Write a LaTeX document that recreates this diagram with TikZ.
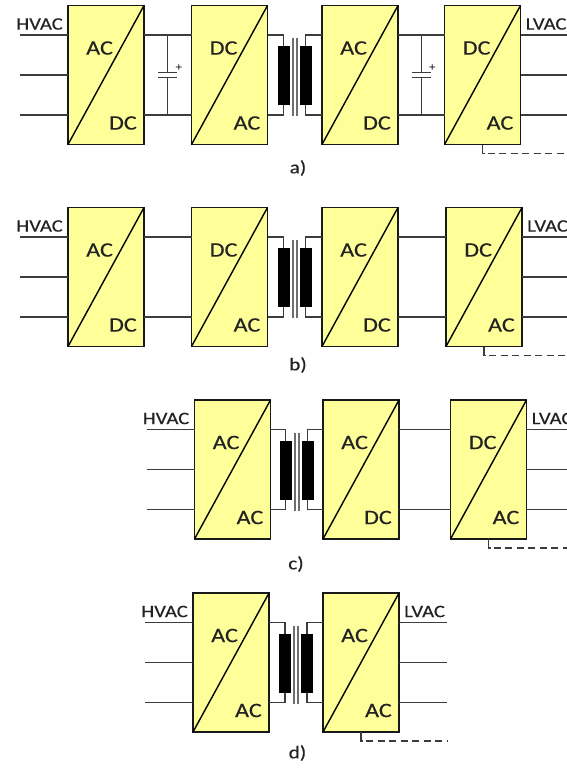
\documentclass[tikz,border=0pt]{standalone}
\usepackage{fontspec}
\newfontfamily\lblfont[FakeStretch=1.18,FakeBold=0.35]{Carlito}
\usetikzlibrary{calc}
\definecolor{boxfill}{RGB}{255,255,153}
\definecolor{wirec}{RGB}{60,60,60}
\definecolor{textc}{RGB}{35,35,35}
\definecolor{corec}{RGB}{110,110,110}
\tikzset{
  cbox/.style={draw=black!90, line width=1.6pt, fill=boxfill, minimum width=76pt, minimum height=139pt, inner sep=0pt, outer sep=0pt},
  diag/.style={line width=1.4pt, draw=black},
  wire/.style={line width=1.3pt, draw=wirec},
  boxtext/.style={inner sep=0pt, font=\lblfont\fontsize{20.5}{21}\selectfont, text=textc},
  uptext/.style={boxtext, anchor=west},
  lowtext/.style={boxtext, anchor=east},
  coil/.style={fill=black, draw=none, minimum width=11.5pt, minimum height=59pt, inner sep=0pt, outer sep=0pt},
  core/.style={line width=1.5pt, draw=corec},
  vlabel/.style={inner sep=0pt, font=\lblfont\fontsize{17.5}{18}\selectfont, text=textc},
  caption/.style={inner sep=0pt, font=\lblfont\fontsize{18}{18}\selectfont, text=textc},
  plussign/.style={inner sep=0pt, font=\lblfont\fontsize{11}{11}\selectfont, text=textc},
  dashline/.style={wire, dash pattern=on 7pt off 4.5pt},
}
\newcommand\convbox[5]{%
  \node[cbox] (#1) at (#2,#3) {};
  \draw[diag] (#1.south west) -- (#1.north east);
  \node[uptext] (#1u) at ([xshift=18pt,yshift=27pt]#1.west) {#4};
  \node[lowtext] (#1d) at ([xshift=-7pt,yshift=-48pt]#1.east) {#5};
}
\newcommand\wirepair[2]{%
  \draw[wire] ([yshift=40pt]#1.east) -- ([yshift=40pt]#2.west);
  \draw[wire] ([yshift=-40pt]#1.east) -- ([yshift=-40pt]#2.west);
}
\newcommand\capac[3]{%
  \wirepair{#1}{#2}
  \coordinate (#3m) at ($(#1.east)!0.5!(#2.west)$);
  \coordinate (#3t) at ([yshift=40pt]#3m);
  \coordinate (#3b) at ([yshift=-40pt]#3m);
  \draw[wire] (#3t) -- ([yshift=2.5pt]#3m);
  \draw[wire] ([xshift=-9.5pt,yshift=2.5pt]#3m) -- ([xshift=9.5pt,yshift=2.5pt]#3m);
  \draw[wire] ([xshift=-9.5pt,yshift=-2.5pt]#3m) -- ([xshift=9.5pt,yshift=-2.5pt]#3m);
  \draw[wire] ([yshift=-2.5pt]#3m) -- (#3b);
  \node[plussign] (#3p) at ([xshift=11pt,yshift=7.5pt]#3m) {+};
}
\newcommand\xfmr[3]{%
  \coordinate (#3m) at ($(#1.east)!0.5!(#2.west)$);
  \node[coil] (#3L) at ([xshift=-11pt,yshift=-0.5pt]#3m) {};
  \node[coil] (#3R) at ([xshift=11pt,yshift=-0.5pt]#3m) {};
  \draw[core] ([xshift=-2pt,yshift=37pt]#3m) -- ([xshift=-2pt,yshift=-41pt]#3m);
  \draw[core] ([xshift=2pt,yshift=37pt]#3m) -- ([xshift=2pt,yshift=-41pt]#3m);
  \draw[wire] ([yshift=40pt]#1.east) -| (#3L.north);
  \draw[wire] ([yshift=-40pt]#1.east) -| (#3L.south);
  \draw[wire] ([yshift=40pt]#2.west) -| (#3R.north);
  \draw[wire] ([yshift=-40pt]#2.west) -| (#3R.south);
}
\newcommand\inwires[1]{%
  \coordinate (#1ia) at ([xshift=-48pt,yshift=40pt]#1.west);
  \coordinate (#1ib) at ([xshift=-48pt]#1.west);
  \coordinate (#1ic) at ([xshift=-48pt,yshift=-40pt]#1.west);
  \draw[wire] (#1ia) -- ([yshift=40pt]#1.west);
  \draw[wire] (#1ib) -- (#1.west);
  \draw[wire] (#1ic) -- ([yshift=-40pt]#1.west);
  \node[vlabel, anchor=east] (#1hv) at ([xshift=-5pt,yshift=51pt]#1.west) {HVAC};
}
\newcommand\outwires[1]{%
  \coordinate (#1oa) at ([xshift=48pt,yshift=40pt]#1.east);
  \coordinate (#1ob) at ([xshift=48pt]#1.east);
  \coordinate (#1oc) at ([xshift=48pt,yshift=-40pt]#1.east);
  \draw[wire] ([yshift=40pt]#1.east) -- (#1oa);
  \draw[wire] (#1.east) -- (#1ob);
  \draw[wire] ([yshift=-40pt]#1.east) -- (#1oc);
  \node[vlabel, anchor=west] (#1lv) at ([xshift=5pt,yshift=51pt]#1.east) {LVAC};
  \draw[wire] (#1.south) -- ++(0pt,-9pt) coordinate (#1k) -- ++(2pt,0pt);
  \coordinate (#1ke) at ([xshift=87pt]#1k);
  \draw[dashline] ([xshift=5pt]#1k) -- (#1ke);
}
\begin{document}
\begin{tikzpicture}[x=1pt,y=-1pt]
\fill[white] (0,0) rectangle (567,771);
\useasboundingbox (0,0) rectangle (567,771);
% row a
\convbox{A1}{106}{75}{AC}{DC}
\convbox{A2}{229.5}{75}{DC}{AC}
\convbox{A3}{360}{75}{AC}{DC}
\convbox{A4}{482.5}{75}{DC}{AC}
\inwires{A1}
\capac{A1}{A2}{Ca}
\xfmr{A2}{A3}{Ta}
\capac{A3}{A4}{Cb}
\outwires{A4}
\node[caption] (la) at (298,168) {a)};
% row b
\convbox{B1}{106}{277}{AC}{DC}
\convbox{B2}{229.5}{277}{DC}{AC}
\convbox{B3}{360}{277}{AC}{DC}
\convbox{B4}{484}{277}{DC}{AC}
\inwires{B1}
\wirepair{B1}{B2}
\xfmr{B2}{B3}{Tb}
\wirepair{B3}{B4}
\outwires{B4}
\node[caption] (lb) at (298,365) {b)};
% row c
\convbox{C1}{232.5}{469.5}{AC}{AC}
\convbox{C2}{361}{469.5}{AC}{DC}
\convbox{C3}{488.5}{469.5}{DC}{AC}
\inwires{C1}
\xfmr{C1}{C2}{Tc}
\wirepair{C2}{C3}
\outwires{C3}
\node[caption] (lc) at (296,564) {c)};
% row d
\convbox{D1}{231}{662.5}{AC}{AC}
\convbox{D2}{361}{662.5}{AC}{AC}
\inwires{D1}
\xfmr{D1}{D2}{Td}
\outwires{D2}
\node[caption] (ld) at (297.5,753) {d)};
\end{tikzpicture}
\end{document}
